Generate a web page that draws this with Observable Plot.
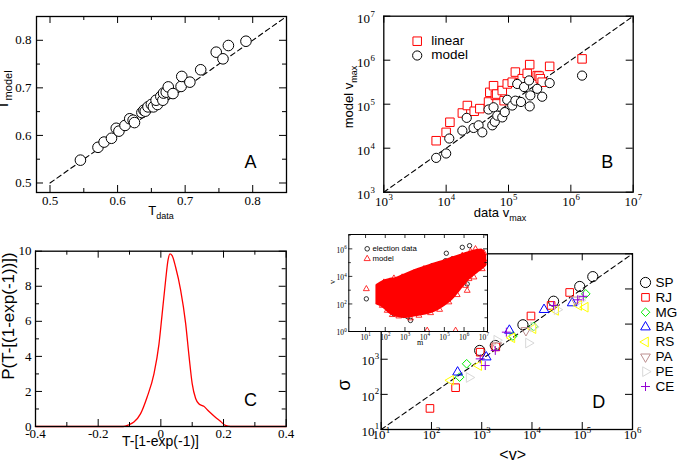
<!DOCTYPE html>
<html>
<head>
<meta charset="utf-8">
<script src="https://cdn.jsdelivr.net/npm/d3@7"></script>
<script src="https://cdn.jsdelivr.net/npm/@observablehq/plot@0.6"></script>
<style>
  body { margin: 0; background: #fff; }
  #fig { position: relative; width: 679px; height: 465px; overflow: hidden; background: #fff; }
</style>
</head>
<body>
<div id="fig"></div>
<script>
// ---------- Panel A: T_model vs T_data ----------
const aTdata  = [0.545,0.571,0.58,0.591,0.598,0.602,0.611,0.618,0.623,0.625,0.636,0.639,0.641,0.645,0.65,0.653,0.659,0.657,0.664,0.667,0.668,0.672,0.675,0.682,0.694,0.695,0.707,0.723,0.746,0.756,0.764,0.79];
const aTmodel = [0.548,0.575,0.586,0.594,0.615,0.609,0.621,0.635,0.632,0.627,0.648,0.653,0.651,0.66,0.665,0.66,0.665,0.674,0.682,0.674,0.689,0.691,0.702,0.688,0.703,0.724,0.712,0.738,0.775,0.761,0.789,0.798];
const aDiag  = [0.5, 0.85];
const aMajor = [0.5, 0.6, 0.7, 0.8];
const aMinor = [0.55, 0.65, 0.75, 0.85];

// ---------- Panel B: model v_max vs data v_max (log10 values) ----------
const bLinearX = [3.84,4.0,4.06,4.26,4.34,4.45,4.54,4.68,4.7,4.76,4.79,4.81,4.9,4.93,4.98,5.06,5.11,5.17,5.22,5.3,5.34,5.46,5.49,5.51,5.54,5.66,6.18];
const bLinearY = [4.17,4.36,4.59,4.8,4.97,4.84,4.9,5.05,5.27,5.42,5.2,5.23,5.31,5.08,5.46,5.5,5.73,5.48,5.58,5.7,5.9,5.65,5.64,5.58,5.5,5.86,6.03];
const bModelX  = [3.84,4.0,4.05,4.26,4.33,4.44,4.52,4.58,4.68,4.74,4.76,4.78,4.82,4.9,4.94,4.98,5.06,5.11,5.14,5.2,5.25,5.33,5.34,5.35,5.46,5.54,5.66,6.18];
const bModelY  = [3.78,3.88,4.22,4.4,4.69,4.46,4.52,4.36,4.88,4.52,4.93,4.6,4.74,4.7,4.82,5.1,4.97,5.08,5.46,5.05,5.39,5.54,4.95,5.2,5.35,5.17,5.48,5.65];
const bDiag    = [1e3, 1e7];
const bDecades = [1e3, 1e4, 1e5, 1e6, 1e7];

// ---------- Panel C: distribution of T-[1-exp(-1)] ----------
const cX = [-0.4,-0.12,-0.102,-0.086,-0.065,-0.044,-0.022,-0.006,0.004,0.015,0.023,0.029,0.036,0.047,0.063,0.079,0.09,0.1,0.111,0.121,0.137,0.153,0.174,0.19,0.206,0.222,0.4];
const cY = [0,0,0.1,0.25,0.72,1.67,3.0,4.7,6.4,8.3,9.5,9.85,9.75,9.1,7.8,5.9,4.0,2.45,1.6,1.3,1.15,0.87,0.53,0.3,0.06,0,0];
const cXMajor = [-0.4,-0.2,0,0.2,0.4];
const cXMinor = [-0.3,-0.1,0.1,0.3];
const cYMajor = [0,2,4,6,8,10];
const cYMinor = [1,3,5,7,9];

// ---------- Panel D: sigma vs <v> per state (log10 values) ----------
const states       = ["SP","RJ","MG","BA","RS","PA","PE","CE"];
const stateColors  = ["#000000","#ff0000","#00ee00","#0000ff","#ffff00","#bc8f8f","#d8d8d8","#9400d3"];
const stateSymbols = ["circle","square","diamond2","triangle","triangle","triangle","triangle","plus"];
const stateRotate  = [0,0,0,0,-90,180,90,0];
const stateRadius  = [5.1,4.3,3.9,3.6,3.6,3.6,3.6,3.0];
const spMean = [2.96,3.27,3.82,4.43,4.95,5.21], spSigma = [3.25,3.39,3.98,4.65,5.07,5.35];
const rjMean = [1.97,2.48,2.97,3.28,3.98,4.38,4.75], rjSigma = [1.6,2.19,3.2,3.35,4.23,4.53,4.9];
const mgMean = [2.56,2.7,3.62,4.03,5.07], mgSigma = [2.49,2.87,3.66,3.93,4.86];
const baMean = [2.52,3.09,3.55,4.24,4.8], baSigma = [2.63,3.06,3.82,4.41,4.6];
const rsMean = [2.38,2.94,3.6,4.02,4.47,4.93,5.06], rsSigma = [2.4,2.82,3.61,3.87,4.39,4.53,4.48];
const paMean = [3.3,3.88,4.86], paSigma = [3.39,3.82,4.69];
const peMean = [2.75,3.3,3.93,4.03,4.5,4.96], peSigma = [2.48,3.54,3.46,3.92,4.41,4.68];
const ceMean = [2.97,3.07,3.27,3.49,4.43,4.91,5.02], ceSigma = [3.01,2.82,3.25,3.77,4.53,4.69,4.79];
const stateMeans  = [spMean, rjMean, mgMean, baMean, rsMean, paMean, peMean, ceMean];
const stateSigmas = [spSigma, rjSigma, mgSigma, baSigma, rsSigma, paSigma, peSigma, ceSigma];
const dDiag    = [1e1, 1e6];
const dDecades = [1e1, 1e2, 1e3, 1e4, 1e5, 1e6];

// ---------- Inset: v vs m (log10 values) ----------
const insetCloudM  = [1.59,1.93,2.2,2.52,3.03,3.54,4.05,4.55,5.0,5.4,5.82,6.25,6.67,6.9,7.09];
const insetCloudLo = [2.0,1.76,1.4,1.16,1.04,1.16,1.28,1.52,1.9,2.37,3.09,3.82,4.3,4.55,4.78];
const insetCloudHi = [3.33,3.62,3.75,3.82,4.11,4.42,4.66,4.9,5.1,5.3,5.5,5.7,5.87,5.9,5.51];
const insetDataM = [1.04,1.76,2.19,2.27,2.44,2.52,2.95,3.12,3.28,3.03,3.54,3.88,4.13,4.39,4.72,5.06,5.1,5.4,5.91,6.28,6.89,4.98,5.65,6.16];
const insetDataV = [2.37,3.21,3.33,3.57,1.28,1.52,1.16,1.09,0.8,3.94,4.3,4.35,4.54,4.78,4.83,5.14,5.68,5.27,6.11,6.23,5.14,2.25,3.7,3.45];
const insetModelM = [1.04,1.68,4.13,5.57,6.16,6.25,1.93,2.44,2.86,3.46,3.96,4.72,5.4,5.91,6.33,6.58,7.01,6.84,6.67,1.85,2.1,2.36,2.69,3.28,3.71,4.3,4.76,5.23,5.65,6.08,6.5,6.92,7.09];
const insetModelV = [3.09,2.17,0.07,0.07,2.97,3.82,3.57,3.86,3.94,4.25,4.54,4.83,5.22,5.51,5.8,5.99,5.7,5.02,4.66,1.88,1.52,1.21,1.11,0.97,1.16,1.35,1.59,2.13,2.66,3.33,3.94,4.54,5.02];
const insetXDecades = [1e1,1e2,1e3,1e4,1e5,1e6,1e7];
const insetYMajor = [1e0,1e2,1e4,1e6];
const insetYMinor = [1e1,1e3,1e5,1e7];

// ---------- shared helpers ----------
const sans  = "'Liberation Sans', Arial, Helvetica, sans-serif";
const serif = "'Liberation Serif', 'Times New Roman', serif";
const fig = document.getElementById("fig");
const pow = d => 10 ** d;
const zip = (xs, ys) => xs.map((x, i) => ({x, y: ys[i]}));

// inward ticks on both opposite sides of the frame
function frameTicks(vals, axis, fw, fh, len, sw = 1) {
  const o = {stroke: "#000", strokeWidth: sw};
  return axis === "x"
    ? [Plot.tickX(vals, {...o, x: d => d, insetTop: fh - len}),
       Plot.tickX(vals, {...o, x: d => d, insetBottom: fh - len})]
    : [Plot.tickY(vals, {...o, y: d => d, insetRight: fw - len}),
       Plot.tickY(vals, {...o, y: d => d, insetLeft: fw - len})];
}
function xNum(vals, fmt, dy, fs) {
  return Plot.text(vals, {x: d => d, text: fmt, frameAnchor: "bottom", dy, lineAnchor: "middle",
    fontFamily: serif, fontSize: fs, fill: "#000"});
}
function yNum(vals, fmt, dx, fs, dy = 0) {
  return Plot.text(vals, {y: d => d, text: fmt, frameAnchor: "left", dx, dy, textAnchor: "end",
    lineAnchor: "middle", fontFamily: serif, fontSize: fs, fill: "#000"});
}
const expOf = d => String(Math.round(Math.log10(d)));
function xPow(vals, dy, fs) {
  const es = fs * 0.68;
  return [
    Plot.text(vals, {x: d => d, text: () => "10", frameAnchor: "bottom", dy, dx: fs * 0.33,
      textAnchor: "end", lineAnchor: "middle", fontFamily: serif, fontSize: fs, fill: "#000"}),
    Plot.text(vals, {x: d => d, text: expOf, frameAnchor: "bottom", dy: dy - fs * 0.4, dx: fs * 0.33 + 0.3,
      textAnchor: "start", lineAnchor: "middle", fontFamily: serif, fontSize: es, fill: "#000"})
  ];
}
function yPow(vals, dx, dy, fs) {
  const es = fs * 0.68;
  return [
    Plot.text(vals, {y: d => d, text: () => "10", frameAnchor: "left", dx: dx - es * 0.5 - 0.3, dy,
      textAnchor: "end", lineAnchor: "middle", fontFamily: serif, fontSize: fs, fill: "#000"}),
    Plot.text(vals, {y: d => d, text: expOf, frameAnchor: "left", dx, dy: dy - fs * 0.4,
      textAnchor: "end", lineAnchor: "middle", fontFamily: serif, fontSize: es, fill: "#000"})
  ];
}
function letter(ch, dx, dy) {
  return Plot.text([ch], {text: d => d, frameAnchor: "bottom-right", dx, dy, textAnchor: "middle",
    lineAnchor: "middle", fontFamily: sans, fontSize: 18, fill: "#000"});
}
// axis titles with subscript parts
function title(svg, x, y, parts, opt = {}) {
  const {rotate = 0, size = 13, sub = 9, shift = 4, family = sans} = opt;
  const t = d3.select(svg).append("text")
    .attr("transform", `translate(${x},${y}) rotate(${rotate})`)
    .attr("text-anchor", "middle").attr("font-family", family)
    .attr("font-size", size).attr("fill", "#000");
  let off = 0;
  for (const p of parts) {
    const s = t.append("tspan").text(p.t);
    if (p.sub) { s.attr("font-size", sub).attr("dy", shift - off); off = shift; }
    else { s.attr("dy", -off); off = 0; }
  }
}
function place(svg, left, top) {
  Object.assign(svg.style, {position: "absolute", left: left + "px", top: top + "px",
    overflow: "visible", background: "transparent", maxWidth: "none"});
  fig.appendChild(svg);
  return svg;
}
const dash = {stroke: "#000", strokeWidth: 1.1, strokeDasharray: "5,3.5"};

// ---------- Panel A ----------
{
  const W = 340, H = 230, ml = 36, mr = 54, mt = 16, mb = 38;
  const fw = W - ml - mr, fh = H - mt - mb;
  const svg = Plot.plot({
    width: W, height: H, marginLeft: ml, marginRight: mr, marginTop: mt, marginBottom: mb,
    x: {domain: [0.48, 0.85], axis: null}, y: {domain: [0.48, 0.85], axis: null},
    marks: [
      Plot.line(aDiag, {x: d => d, y: d => d, ...dash}),
      Plot.dot(zip(aTdata, aTmodel), {x: "x", y: "y", r: 5.3, stroke: "#000", strokeWidth: 1, fill: "white"}),
      ...frameTicks(aMajor, "x", fw, fh, 7), ...frameTicks(aMinor, "x", fw, fh, 4),
      ...frameTicks(aMajor, "y", fw, fh, 7), ...frameTicks(aMinor, "y", fw, fh, 4),
      Plot.frame({stroke: "#000", strokeWidth: 1.3}),
      xNum(aMajor, d => d.toFixed(1), 8, 13),
      yNum(aMajor, d => d.toFixed(1), -5, 13),
      letter("A", -36, -30)
    ]
  });
  place(svg, 0, 0);
  title(svg, 161, 215, [{t: "T"}, {t: "data", sub: true}]);
  title(svg, 8, 90, [{t: "T"}, {t: "model", sub: true}], {rotate: -90, size: 15, sub: 11, shift: 3.5});
}

// ---------- Panel B ----------
{
  const W = 339, H = 230, ml = 43.3, mr = 46.3, mt = 15.7, mb = 38.3;
  const fw = W - ml - mr, fh = H - mt - mb;
  const svg = Plot.plot({
    width: W, height: H, marginLeft: ml, marginRight: mr, marginTop: mt, marginBottom: mb,
    x: {type: "log", domain: [1e3, 1e7], axis: null}, y: {type: "log", domain: [1e3, 1e7], axis: null},
    marks: [
      Plot.line(bDiag, {x: d => d, y: d => d, ...dash}),
      Plot.dot(zip(bLinearX, bLinearY), {x: d => pow(d.x), y: d => pow(d.y), symbol: "square", r: 4.8,
        stroke: "#ff0000", strokeWidth: 1, fill: "white"}),
      Plot.dot(zip(bModelX, bModelY), {x: d => pow(d.x), y: d => pow(d.y), symbol: "circle", r: 4.6,
        stroke: "#000", strokeWidth: 1, fill: "white"}),
      ...frameTicks(bDecades, "x", fw, fh, 7), ...frameTicks(bDecades, "y", fw, fh, 7),
      Plot.frame({stroke: "#000", strokeWidth: 1.3}),
      ...xPow(bDecades, 10, 13),
      ...yPow(bDecades, -9, 3, 13),
      Plot.dot(["linear"], {frameAnchor: "top-left", dx: 33.4, dy: 25, symbol: "square", r: 4.8,
        stroke: "#ff0000", strokeWidth: 1, fill: "white"}),
      Plot.dot(["model"], {frameAnchor: "top-left", dx: 33.4, dy: 39.3, symbol: "circle", r: 4.6,
        stroke: "#000", strokeWidth: 1, fill: "white"}),
      Plot.text(["linear"], {text: d => d, frameAnchor: "top-left", dx: 47.4, dy: 24, textAnchor: "start",
        lineAnchor: "middle", fontFamily: sans, fontSize: 13.5, fill: "#000"}),
      Plot.text(["model"], {text: d => d, frameAnchor: "top-left", dx: 47.4, dy: 38.3, textAnchor: "start",
        lineAnchor: "middle", fontFamily: sans, fontSize: 13.5, fill: "#000"}),
      letter("B", -26, -30)
    ]
  });
  place(svg, 340, 0);
  title(svg, 160, 217, [{t: "data v"}, {t: "max", sub: true}]);
  title(svg, 13, 97, [{t: "model v"}, {t: "max", sub: true}], {rotate: -90});
}

// ---------- Panel C ----------
{
  const W = 340, H = 235, ml = 35, mr = 54.3, mt = 20.7, mb = 39;
  const fw = W - ml - mr, fh = H - mt - mb;
  const svg = Plot.plot({
    width: W, height: H, marginLeft: ml, marginRight: mr, marginTop: mt, marginBottom: mb,
    x: {domain: [-0.4, 0.4], axis: null}, y: {domain: [0, 10], axis: null},
    marks: [
      Plot.line(zip(cX, cY), {x: "x", y: "y", stroke: "#ff0000", strokeWidth: 1.3, curve: "monotone-x"}),
      ...frameTicks(cXMajor, "x", fw, fh, 7), ...frameTicks(cXMinor, "x", fw, fh, 4),
      ...frameTicks(cYMajor, "y", fw, fh, 7), ...frameTicks(cYMinor, "y", fw, fh, 4),
      Plot.frame({stroke: "#000", strokeWidth: 1.3}),
      xNum(cXMajor, d => d === 0 ? "0" : d.toFixed(1), 7, 13),
      yNum(cYMajor, d => String(d), -4, 13),
      letter("C", -35.7, -26.7)
    ]
  });
  place(svg, 0, 230);
  title(svg, 160.5, 216, [{t: "T-[1-exp(-1)]"}], {size: 14});
  title(svg, 14, 86, [{t: "P(T-[(1-exp(-1))])"}], {rotate: -90, size: 17});
}

// ---------- Panel D ----------
{
  const W = 339, H = 235, ml = 40.7, mr = 47, mt = 23.3, mb = 36;
  const fw = W - ml - mr, fh = H - mt - mb;
  const series = states.flatMap((s, k) => zip(stateMeans[k], stateSigmas[k]).map(p => ({...p, k})));
  const marks = [
    Plot.line(dDiag, {x: d => d, y: d => d, ...dash}),
    ...frameTicks(dDecades, "x", fw, fh, 7), ...frameTicks(dDecades, "y", fw, fh, 7),
    Plot.frame({stroke: "#000", strokeWidth: 1.3}),
    ...xPow(dDecades, 5.5, 13),
    ...yPow(dDecades.slice(0, 3), -2, 2, 13),
    letter("D", -33.7, -27.3)
  ];
  states.forEach((s, k) => {
    const style = {symbol: stateSymbols[k], r: stateRadius[k], rotate: stateRotate[k],
      stroke: stateColors[k], strokeWidth: 1, fill: "none"};
    marks.push(Plot.dot(series.filter(d => d.k === k), {x: d => pow(d.x), y: d => pow(d.y), ...style}));
    marks.push(Plot.dot([s], {frameAnchor: "top-right", dx: 13, dy: 28.7 + k * 14.86, ...style}));
    marks.push(Plot.text([s], {text: d => d, frameAnchor: "top-right", dx: 23, dy: 28.7 + k * 14.86,
      textAnchor: "start", lineAnchor: "middle", fontFamily: sans, fontSize: 13.5, fill: "#000"}));
  });
  const svg = Plot.plot({
    width: W, height: H, marginLeft: ml, marginRight: mr, marginTop: mt, marginBottom: mb,
    x: {type: "log", domain: [1e1, 1e6], axis: null}, y: {type: "log", domain: [1e1, 1e6], axis: null},
    marks
  });
  place(svg, 340, 230);
  title(svg, 172.7, 230, [{t: "<v>"}], {size: 16});
  title(svg, 10, 155, [{t: "σ"}], {rotate: -90, size: 18});
}

// ---------- Inset of panel D ----------
{
  const W = 165, H = 120, ml = 18.3, mr = 8, mt = 9, mb = 14;
  const fw = W - ml - mr, fh = H - mt - mb;
  const cloud = insetCloudM.map((m, i) => ({m, lo: insetCloudLo[i], hi: insetCloudHi[i]}));
  const svg = Plot.plot({
    width: W, height: H, marginLeft: ml, marginRight: mr, marginTop: mt, marginBottom: mb,
    x: {type: "log", domain: [1.41, 1.55e7], axis: null}, y: {type: "log", domain: [1, 1.1e7], axis: null},
    marks: [
      Plot.frame({fill: "white"}),
      Plot.dot(zip(insetDataM, insetDataV), {x: d => pow(d.x), y: d => pow(d.y), r: 2.2,
        stroke: "#000", strokeWidth: 0.8, fill: "none", clip: true}),
      Plot.areaY(cloud, {x: d => pow(d.m), y1: d => pow(d.lo), y2: d => pow(d.hi), fill: "#ff0000",
        stroke: "#ff0000", strokeWidth: 2.5, strokeLinejoin: "round", curve: "monotone-x", clip: true}),
      Plot.dot(zip(insetModelM, insetModelV), {x: d => pow(d.x), y: d => pow(d.y), symbol: "triangle", r: 2.2,
        stroke: "#ff0000", strokeWidth: 0.8, fill: "none", clip: true}),
      ...frameTicks(insetXDecades, "x", fw, fh, 4, 0.8),
      ...frameTicks(insetYMajor, "y", fw, fh, 4, 0.8), ...frameTicks(insetYMinor, "y", fw, fh, 2.5, 0.8),
      Plot.frame({stroke: "#000", strokeWidth: 1}),
      ...xPow(insetXDecades, 6, 7.5),
      ...yPow(insetYMajor, -2, 1.5, 7.5),
      Plot.dot(["election data"], {frameAnchor: "top-left", dx: 18.4, dy: 14.3, r: 2.3,
        stroke: "#000", strokeWidth: 0.8, fill: "none"}),
      Plot.dot(["model"], {frameAnchor: "top-left", dx: 18.4, dy: 24.3, symbol: "triangle", r: 2.3,
        stroke: "#ff0000", strokeWidth: 0.8, fill: "none"}),
      Plot.text(["election data"], {text: d => d, frameAnchor: "top-left", dx: 23.7, dy: 14.3,
        textAnchor: "start", lineAnchor: "middle", fontFamily: sans, fontSize: 7.8, fill: "#000"}),
      Plot.text(["model"], {text: d => d, frameAnchor: "top-left", dx: 23.7, dy: 24.3,
        textAnchor: "start", lineAnchor: "middle", fontFamily: sans, fontSize: 7.8, fill: "#000"})
    ]
  });
  place(svg, 330, 225);
  title(svg, 90, 120, [{t: "m"}], {size: 8, family: serif});
  title(svg, 5, 57, [{t: "v"}], {rotate: -90, size: 8, family: serif});
}
</script>
</body>
</html>
